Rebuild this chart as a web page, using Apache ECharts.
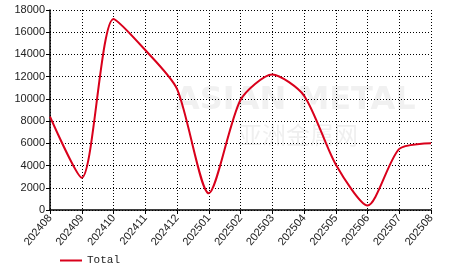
<!DOCTYPE html>
<html><head><meta charset="utf-8">
<script src="https://cdn.jsdelivr.net/npm/echarts@6/dist/echarts.min.js"></script>
<style>html,body{margin:0;padding:0;background:#fff}#c{width:466px;height:272px}</style>
</head><body><div id="c"></div>
<script>
const categories = ['202408','202409','202410','202411','202412','202501','202502','202503','202504','202505','202506','202507','202508'];
const totalValues = [8400, 2900, 17200, 14400, 10900, 1500, 9900, 12200, 10300, 4100, 400, 5500, 6000];
const yTicks = {min: 0, max: 18000, interval: 2000};

const chart = echarts.init(document.getElementById('c'));
chart.setOption({
  animation: false,
  grid: {left: 50, right: 35, top: 10, bottom: 62},
  graphic: [
    {type: 'text', left: 175, top: 85, z: 0, style: {text: 'ASIAN METAL', font: 'bold 32px "DejaVu Sans"', fill: 'rgba(190,190,190,0.22)'}},
    {type: 'text', left: 238, top: 123, z: 0, style: {text: '亚洲金属网', font: '24px "Noto Sans CJK SC"', fill: 'rgba(190,190,190,0.25)'}}
  ],
  legend: {
    left: 55, top: 250, itemWidth: 22, itemHeight: 10,
    textStyle: {fontFamily: '"Liberation Mono", "DejaVu Sans Mono", monospace', fontSize: 11, color: '#222'},
    data: [{name: 'Total', icon: 'path://M0,4 L22,4 L22,6 L0,6 Z'}]
  },
  xAxis: {
    type: 'category', data: categories, boundaryGap: false,
    axisLine: {lineStyle: {color: '#000', width: 1.5}},
    axisTick: {show: true, length: 4, lineStyle: {color: '#000'}},
    axisLabel: {rotate: 50, fontSize: 11, color: '#222', fontFamily: 'Arial, "Liberation Sans"', margin: 6},
    splitLine: {show: true, lineStyle: {color: '#000', type: [1, 2], width: 1}}
  },
  yAxis: {
    type: 'value', min: yTicks.min, max: yTicks.max, interval: yTicks.interval,
    axisLine: {show: true, lineStyle: {color: '#000', width: 1.5}},
    axisTick: {show: true, length: 4, lineStyle: {color: '#000'}},
    axisLabel: {fontSize: 11, color: '#222', fontFamily: 'Arial, "Liberation Sans"', margin: 5, formatter: v => String(v)},
    splitLine: {show: true, lineStyle: {color: '#000', type: [1, 2], width: 1}}
  },
  series: [{
    name: 'Total', type: 'line', data: totalValues, smooth: 0.25,
    showSymbol: false, symbol: 'none',
    lineStyle: {color: '#d9001b', width: 2},
    itemStyle: {color: '#d9001b'}
  }]
});
</script></body></html>
